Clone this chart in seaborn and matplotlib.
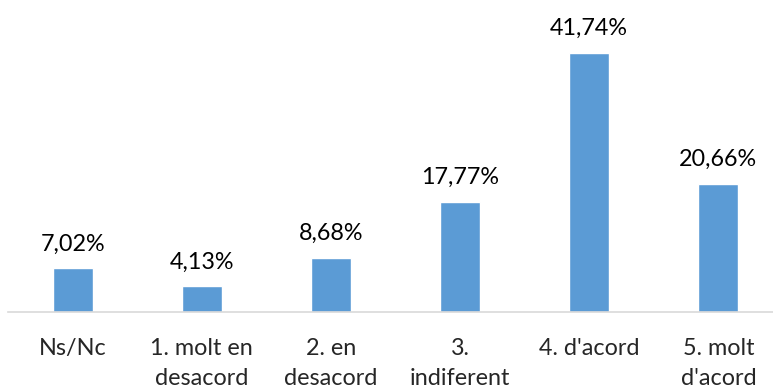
import pandas as pd
import seaborn as sns
import matplotlib.pyplot as plt

# Data
categories = ['Ns/Nc', '1. molt en\ndesacord', '2. en\ndesacord',
              '3.\nindiferent', "4. d'acord", "5. molt\nd'acord"]
values = [7.02, 4.13, 8.68, 17.77, 41.74, 20.66]
labels = ['7,02%', '4,13%', '8,68%', '17,77%', '41,74%', '20,66%']

df = pd.DataFrame({'cat': categories, 'pct': values})

sns.set_style('white')
plt.rcParams['font.family'] = ['Lato', 'DejaVu Sans']

fig = plt.figure(figsize=(7.73, 3.9), dpi=100)
ax = fig.add_axes([8 / 773, 78 / 390, 775 / 773, 312 / 390])

sns.barplot(data=df, x='cat', y='pct', color='#5b9bd5', saturation=1,
            width=0.31, ax=ax)

for i, (v, lab) in enumerate(zip(values, labels)):
    ax.annotate(lab, (i, v), xytext=(0, 10), textcoords='offset points',
                ha='center', va='bottom', fontsize=16.8, color='#000000')

ax.set_ylim(0, 50.3)
ax.set_xlim(-0.5, 5.5)
ax.set_xlabel('')
ax.set_ylabel('')
ax.set_yticks([])
for side in ['top', 'right', 'left']:
    ax.spines[side].set_visible(False)
ax.spines['bottom'].set_color('#d9d9d9')
ax.spines['bottom'].set_linewidth(1.2)
ax.tick_params(axis='x', length=0, pad=19, labelsize=16.8)
for t in ax.get_xticklabels():
    t.set_linespacing(1.5)

fig.savefig('out.png', dpi=100)
